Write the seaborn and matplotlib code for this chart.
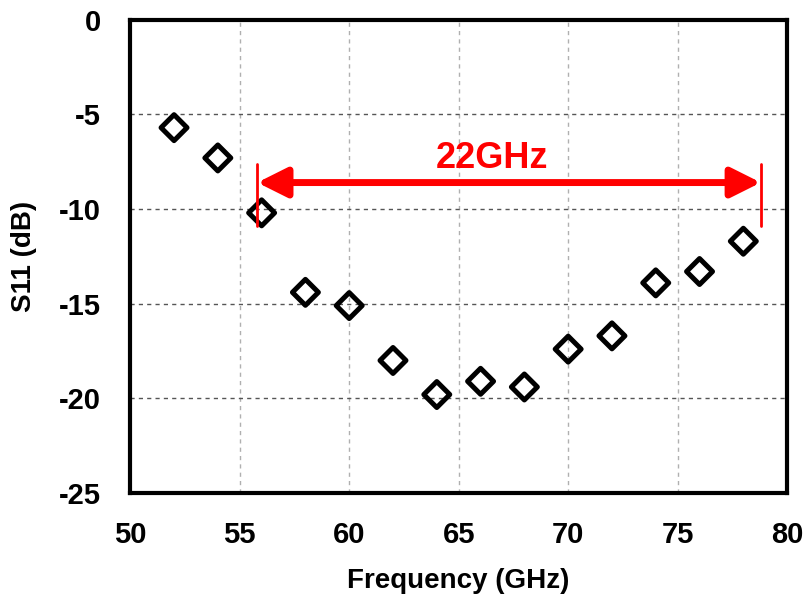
import matplotlib
matplotlib.use("Agg")
import matplotlib.pyplot as plt
import seaborn as sns
import pandas as pd

freq = [52, 54, 56, 58, 60, 62, 64, 66, 68, 70, 72, 74, 76, 78]
s11 = [-5.7, -7.3, -10.2, -14.4, -15.1, -18.0, -19.8, -19.1, -19.4, -17.4, -16.7, -13.9, -13.3, -11.7]
x_ticks = [50, 55, 60, 65, 70, 75, 80]
y_ticks = [0, -5, -10, -15, -20, -25]
bw_start, bw_end, bw_level = 55.8, 78.8, -8.6
bw_label = "22GHz"

sns.set_theme(style="white")
plt.rcParams['font.family'] = ['Liberation Sans Narrow', 'Liberation Sans', 'DejaVu Sans']
plt.rcParams['font.weight'] = 'bold'
plt.rcParams['axes.unicode_minus'] = False
for k in ['text.color', 'axes.labelcolor', 'xtick.color', 'ytick.color']:
    plt.rcParams[k] = 'black'

df = pd.DataFrame({"Frequency (GHz)": freq, "S11 (dB)": s11})

fig = plt.figure(figsize=(8.04, 5.99), dpi=100)
ax = fig.add_axes([0.162, 0.177, 0.817, 0.79])

for v in x_ticks[1:-1]:
    ax.axvline(v, color="#b0b0b0", ls=(0, (3, 3)), lw=1, zorder=0)
for h in y_ticks[1:-1]:
    ax.axhline(h, color="#555555", ls=(0, (3, 3)), lw=1, zorder=0)

sns.scatterplot(data=df, x="Frequency (GHz)", y="S11 (dB)", ax=ax, marker="D",
                s=175, facecolor="none", edgecolor="black", linewidth=3.6, zorder=3)
for coll in ax.collections:
    coll.set_joinstyle("round")

ax.annotate("", xy=(bw_start, bw_level), xytext=(bw_end, bw_level),
            arrowprops=dict(arrowstyle="<|-|>,head_length=1.5,head_width=0.75",
                            color="red", lw=5, shrinkA=0, shrinkB=0), zorder=4)
ax.plot([bw_start, bw_start], [-7.6, -10.9], color="red", lw=2, zorder=4)
ax.plot([bw_end, bw_end], [-7.6, -10.9], color="red", lw=2, zorder=4)
ax.text((bw_start + bw_end) / 2 - 0.8, bw_level + 0.35, bw_label, color="red",
        fontsize=26, fontweight="bold", ha="center", va="bottom", zorder=5)

ax.set_xlim(50, 80)
ax.set_ylim(-25, 0)
ax.set_xticks(x_ticks)
ax.set_yticks(y_ticks)
ax.tick_params(axis="both", labelsize=21, length=0)
ax.tick_params(axis="x", pad=20)
ax.tick_params(axis="y", pad=21)
for lab in ax.get_xticklabels() + ax.get_yticklabels():
    lab.set_fontweight("bold")
ax.set_xlabel("Frequency (GHz)", fontsize=20, fontweight="bold", labelpad=14)
ax.set_ylabel("S11 (dB)", fontsize=20, fontweight="bold", labelpad=16)
for sp in ax.spines.values():
    sp.set_visible(True)
    sp.set_color("black")
    sp.set_linewidth(3)
ax.grid(False)

fig.savefig("out.png", dpi=100)
